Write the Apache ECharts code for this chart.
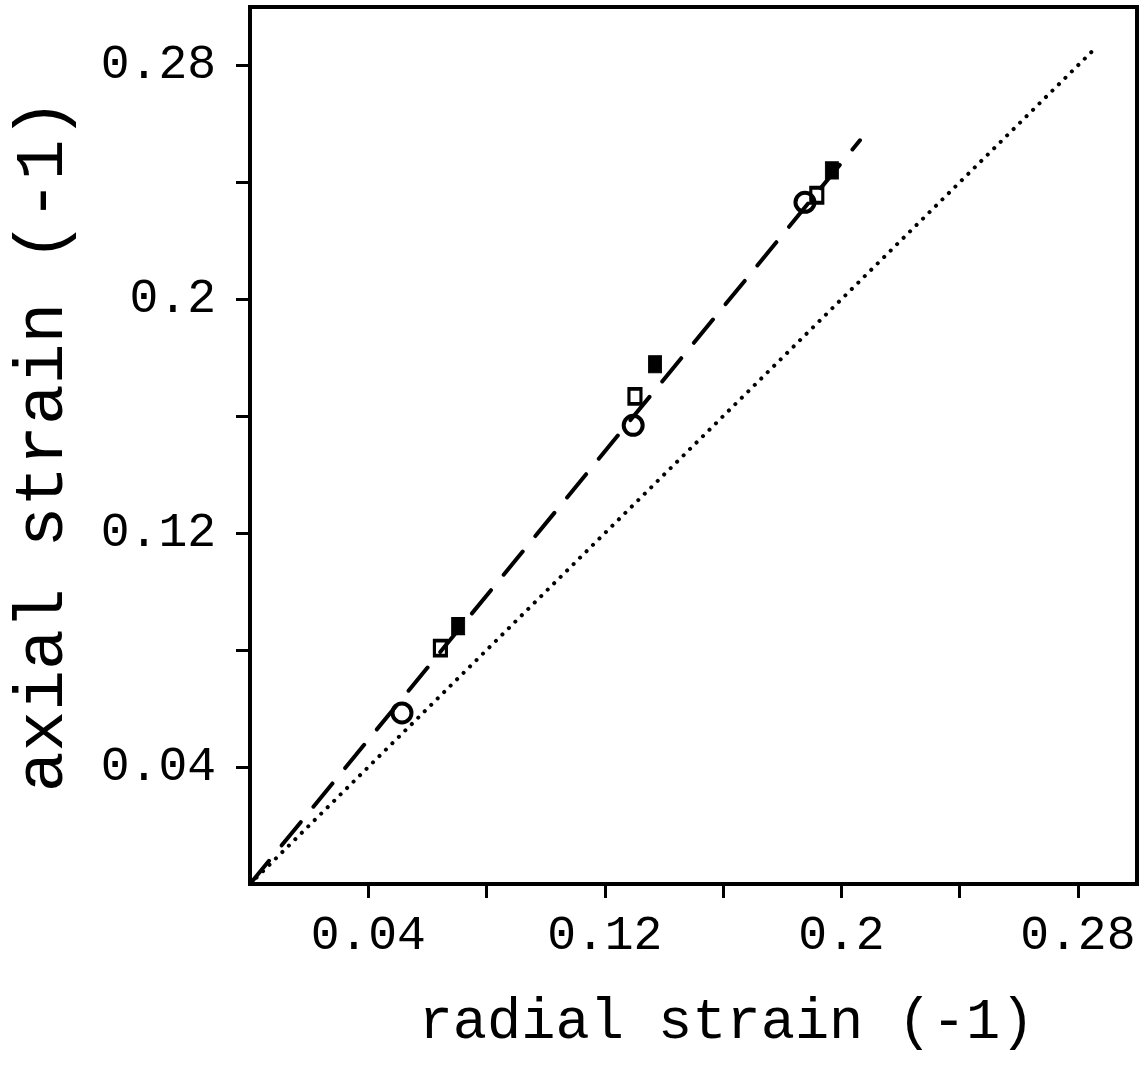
<!DOCTYPE html>
<html>
<head>
<meta charset="utf-8">
<script src="https://cdn.jsdelivr.net/npm/echarts@6/dist/echarts.min.js"></script>
<style>
html,body{margin:0;padding:0;background:#fff;}
#chart{width:1146px;height:1069px;}
</style>
</head>
<body>
<div id="chart"></div>
<script>
// ---- data ----
const circleX = [0.0514, 0.1296, 0.1877];
const circleY = [0.0585, 0.1569, 0.2332];
const openSquareX = [0.0644, 0.1302, 0.1917];
const openSquareY = [0.0807, 0.1668, 0.2356];
const filledSquareX = [0.0704, 0.1370, 0.1968];
const filledSquareY = [0.0882, 0.1778, 0.2441];
const dashedLineX = [0, 0.2063];
const dashedLineY = [0, 0.2544];
const dottedLineX = [0, 0.285];
const dottedLineY = [0, 0.285];
const tickValues = [0.04, 0.08, 0.12, 0.16, 0.2, 0.24, 0.28];
const labelValues = [0.04, 0.12, 0.2, 0.28];
const labelTexts = ['0.04', '0.12', '0.2', '0.28'];
const xTitle = 'radial strain (-1)';
const yTitle = 'axial strain (-1)';

const zip = (xs, ys) => xs.map((x, i) => [x, ys[i]]);
const fmt = v => {
  for (let i = 0; i < labelValues.length; i++) {
    if (Math.abs(v - labelValues[i]) < 1e-6) return labelTexts[i];
  }
  return '';
};
const FONT = 'Liberation Mono';

function axisCommon() {
  return {
    type: 'value', min: 0, max: 0.3, interval: 0.04,
    axisLine: {show: true, onZero: false, lineStyle: {color: '#000', width: 4}},
    axisTick: {show: true, inside: false, length: 14, customValues: tickValues,
               lineStyle: {color: '#000', width: 3}},
    axisLabel: {customValues: labelValues, formatter: fmt, color: '#000',
                fontFamily: FONT, fontSize: 48},
    splitLine: {show: false},
    nameLocation: 'middle'
  };
}

const xAxis = Object.assign(axisCommon(), {
  name: xTitle, nameGap: 110,
  nameTextStyle: {fontFamily: FONT, fontSize: 57, color: '#000', padding: [0, 0, 0, 66]}
});
xAxis.axisLabel.margin = 28;
const yAxis = Object.assign(axisCommon(), {
  name: yTitle, nameGap: 172,
  nameTextStyle: {fontFamily: FONT, fontSize: 68, color: '#000'}
});
yAxis.axisLabel.margin = 34;

const chart = echarts.init(document.getElementById('chart'), null, {renderer: 'canvas'});
chart.setOption({
  backgroundColor: '#fff',
  animation: false,
  grid: {left: 250, top: 7, width: 887, height: 877, show: true,
         borderColor: '#000', borderWidth: 4, containLabel: false},
  xAxis: xAxis,
  yAxis: yAxis,
  series: [
    {type: 'line', data: zip(dottedLineX, dottedLineY), symbol: 'none', z: 2,
     lineStyle: {color: '#000', width: 4, type: [0.1, 9], cap: 'round', opacity: 1}},
    {type: 'line', data: zip(dashedLineX, dashedLineY), symbol: 'none', z: 2,
     lineStyle: {color: '#000', width: 4, type: [30, 20], cap: 'round', opacity: 1}},
    {type: 'scatter', data: zip(circleX, circleY), symbol: 'circle', symbolSize: 19, z: 3,
     itemStyle: {color: 'transparent', borderColor: '#000', borderWidth: 4, opacity: 1}},
    {type: 'scatter', data: zip(openSquareX, openSquareY), symbol: 'rect', symbolSize: [12, 15], z: 3,
     itemStyle: {color: 'transparent', borderColor: '#000', borderWidth: 3.5, opacity: 1}},
    {type: 'scatter', data: zip(filledSquareX, filledSquareY), symbol: 'rect', symbolSize: [13, 17], z: 3,
     itemStyle: {color: '#000', borderColor: '#000', borderWidth: 1, opacity: 1}}
  ]
});
</script>
</body>
</html>
